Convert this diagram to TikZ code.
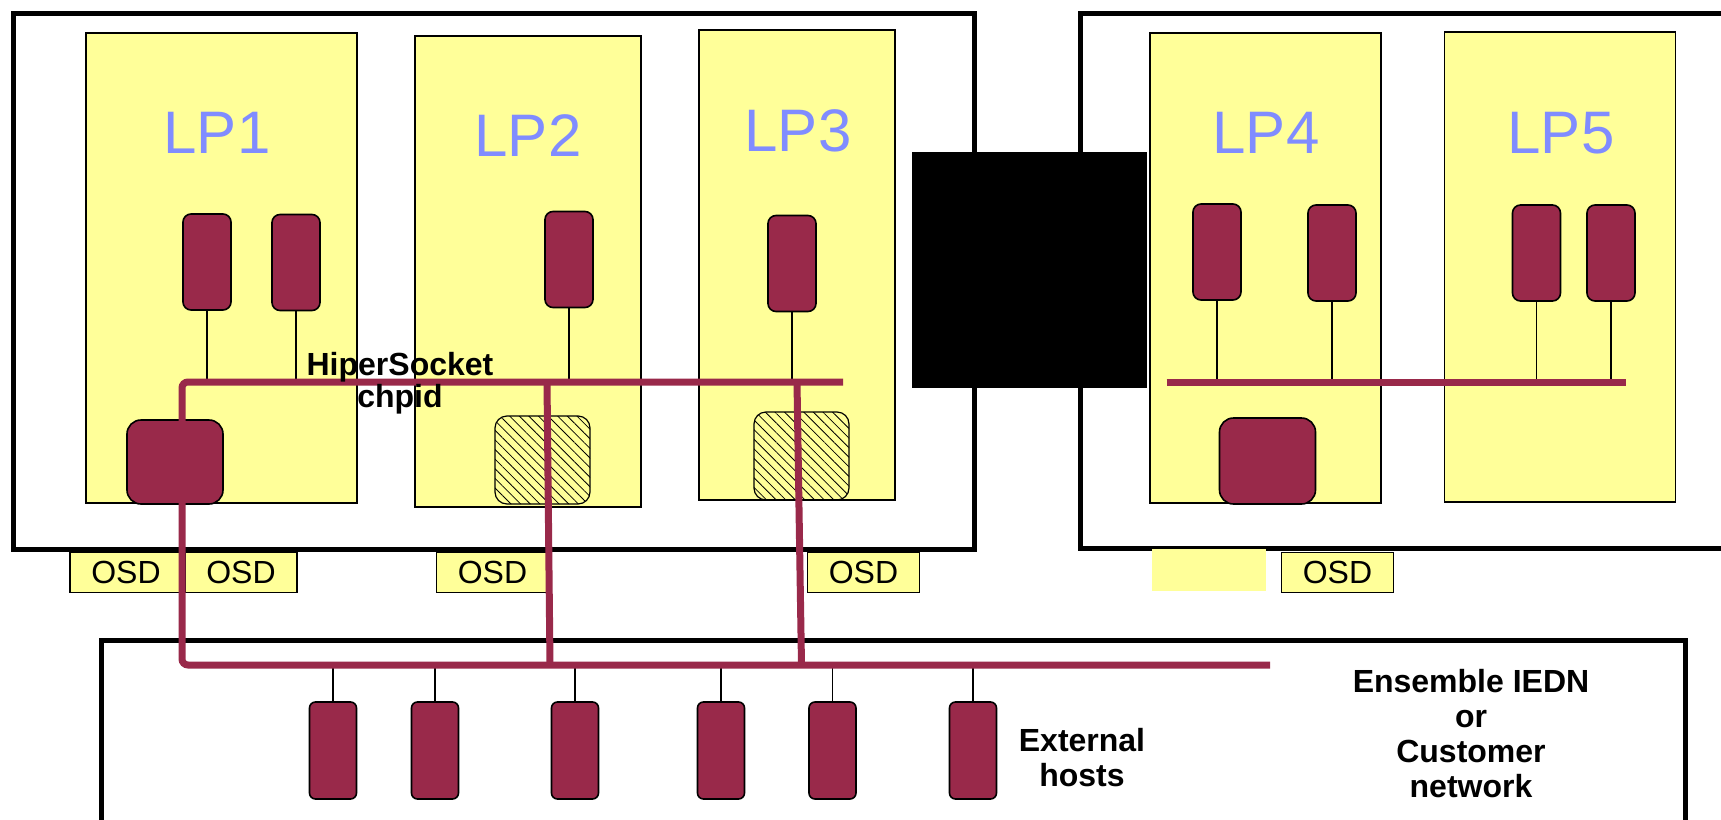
\documentclass[tikz,border=0pt]{standalone}
\usepackage{fontspec}
\setmainfont{Liberation Sans}
\usetikzlibrary{patterns.meta}

\definecolor{lpyellow}{RGB}{255,255,153}
\definecolor{vmred}{RGB}{153,41,74}
\definecolor{lpblue}{RGB}{128,140,255}

\tikzset{
  frame/.style={draw,line width=2.5pt},
  lpbox/.style={draw,fill=lpyellow,line width=0.8pt,inner sep=0pt},
  lplabel/.style={text=lpblue,font=\fontsize{30}{30}\selectfont,anchor=base,inner sep=0pt},
  vm/.style={draw,fill=vmred,rounded corners=4pt,line width=0.8pt,minimum width=24pt,minimum height=48pt,inner sep=0pt},
  adapter/.style={draw,fill=vmred,rounded corners=7pt,line width=0.8pt,minimum width=48pt,minimum height=42pt,inner sep=0pt},
  hatched/.style={draw,rounded corners=6pt,line width=0.6pt,minimum width=47.5pt,minimum height=44pt,inner sep=0pt,
    pattern={Lines[angle=-45,distance=3.4pt,line width=0.4pt]}},
  osd/.style={draw,fill=lpyellow,line width=0.8pt,minimum width=56pt,minimum height=20pt,inner sep=0pt,font=\fontsize{16}{16}\selectfont},
  host/.style={vm,minimum width=23.5pt,minimum height=48.5pt,rounded corners=3pt},
  bus/.style={draw=vmred,line width=3.5pt},
  drop/.style={draw,line width=0.6pt},
  note/.style={font=\fontsize{16}{17.5}\selectfont\bfseries,align=center,inner sep=0pt},
}

\begin{document}
\begin{tikzpicture}[x=0.5pt,y=-0.5pt]
  \useasboundingbox (0,0) rectangle (1721,820);
  \clip (0,0) rectangle (1721,820);
  % machines and network
  \draw[frame] (13,13) rectangle (974,549);
  \draw[frame] (1080,13) rectangle (1740,548);
  \draw[frame] (101,640) rectangle (1685,860);
  \node[fill=black,minimum width=117.5pt,minimum height=118pt,inner sep=0pt] (sw) at (1029.5,270) {};
  % OSD cards
  \foreach \x/\n in {126/1,241/2,492.5/3,863.5/4,1337.5/6}
    \node[osd] (osd\n) at (\x,572.5) {OSD};
  \node[fill=lpyellow,minimum width=57pt,minimum height=21pt,inner sep=0pt] (osd5) at (1209,570) {};
  % LPARs
  \node[lpbox,minimum width=135.5pt,minimum height=235pt] (lp1) at (221.5,268) {};
  \node[lpbox,minimum width=113pt,minimum height=235.5pt] (lp2) at (528,271.5) {};
  \node[lpbox,minimum width=98pt,minimum height=235pt] (lp3) at (797,265) {};
  \node[lpbox,minimum width=115.5pt,minimum height=235pt] (lp4) at (1265.5,268) {};
  \node[lpbox,minimum width=115.5pt,minimum height=235pt] (lp5) at (1560,267) {};
  \foreach \n/\x/\y in {1/217/153,2/528/156,3/798/151,4/1266/153,5/1561/153}
    \node[lplabel] (lab\n) at (\x,\y) {LP\n};
  % guests
  \foreach \n/\x/\y in {11/207/262,12/296/262.5,21/569/259.5,31/792/263.5,41/1217/252,42/1332/253,51/1536.5/253,52/1611/253}
    \node[vm] (vm\n) at (\x,\y) {};
  \node[adapter] (ad1) at (175,462) {};
  \node[hatched] (ad2) at (542.5,460) {};
  \node[hatched] (ad3) at (801.5,456) {};
  \node[adapter,minimum height=43pt] (ad4) at (1267.5,461) {};
  % external hosts
  \foreach \n/\x in {1/333,2/435,3/575,4/721,5/832.5,6/973}
    \node[host] (host\n) at (\x,750.5) {};
  % buses
  \coordinate (hsL) at (182,382);
  \coordinate (hsR) at (843,382);
  \coordinate (hs2L) at (1166.5,382);
  \coordinate (hs2R) at (1626,382);
  \coordinate (netL) at (182,665);
  \coordinate (netR) at (1270,665);
  \foreach \n in {11,12,21,31}
    \draw[drop] (vm\n.south) -- (vm\n.south |- hsL);
  \foreach \n in {41,42,51,52}
    \draw[drop] (vm\n.south) -- (vm\n.south |- hs2L);
  \foreach \n in {1,...,6}
    \draw[drop] (host\n.north) -- (host\n.north |- netL);
  \draw[bus,rounded corners=3pt] (hsR) -- (hsL) -- (netL) -- (netR);
  \draw[bus] ([xshift=2.25pt]ad2.center |- hsL) -- ([xshift=3.75pt]ad2.center |- netL);
  \draw[bus] ([xshift=-2.25pt]ad3.center |- hsL) -- (ad3.center |- netL);
  \draw[bus] (hs2L) -- (hs2R);
  % labels
  \node[note,font=\fontsize{16}{16}\selectfont\bfseries] (hstext) at (400,383) {HiperSocket\\chpid};
  \node[note] (exttext) at (1082,758) {External\\hosts};
  \node[note] (nettext) at (1471,733.5) {Ensemble IEDN\\or\\Customer\\network};
\end{tikzpicture}
\end{document}
